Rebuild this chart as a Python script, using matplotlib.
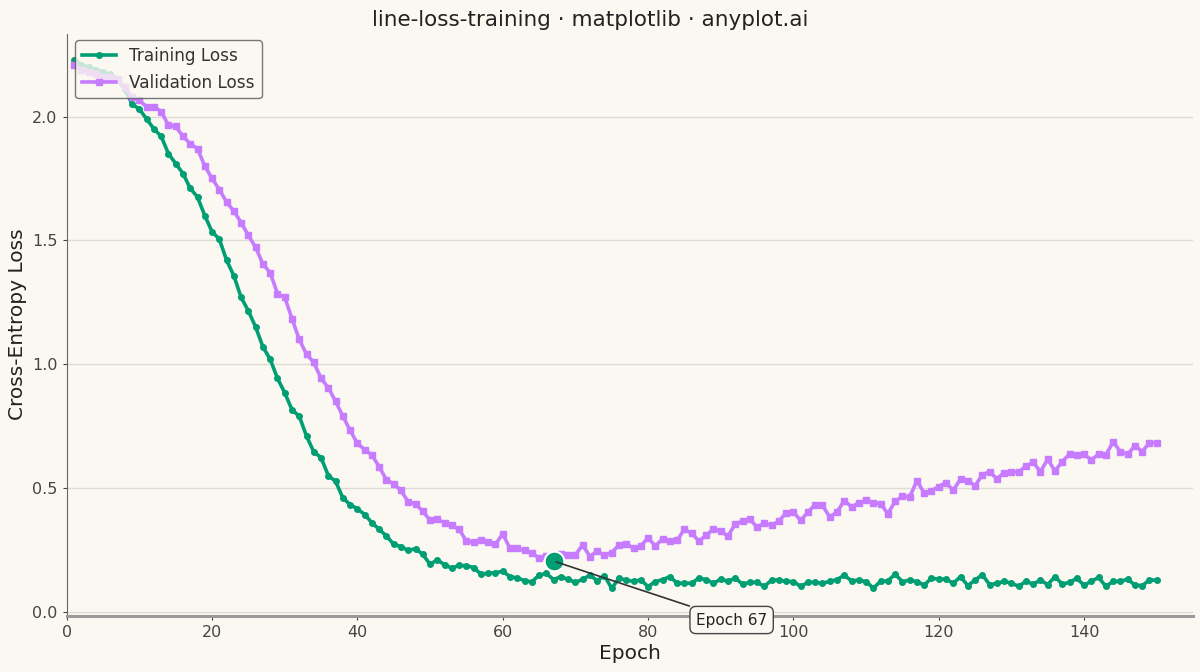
import numpy as np
import matplotlib
matplotlib.use("Agg")
import matplotlib.pyplot as plt

# Loss per epoch
epochs = np.arange(1, 151)

train_loss = [
    2.23, 2.21, 2.20, 2.19, 2.18, 2.17, 2.15, 2.11, 2.05, 2.03,
    1.99, 1.95, 1.92, 1.85, 1.81, 1.77, 1.71, 1.675, 1.60, 1.535,
    1.505, 1.42, 1.357, 1.27, 1.215, 1.15, 1.07, 1.02, 0.943, 0.885,
    0.816, 0.79, 0.71, 0.646, 0.623, 0.55, 0.527, 0.46, 0.433, 0.416,
    0.393, 0.36, 0.333, 0.306, 0.273, 0.263, 0.248, 0.255, 0.232, 0.192,
    0.21, 0.19, 0.176, 0.188, 0.186, 0.179, 0.152, 0.156, 0.158, 0.164,
    0.142, 0.137, 0.126, 0.121, 0.148, 0.155, 0.13, 0.142, 0.131, 0.119,
    0.131, 0.148, 0.126, 0.146, 0.095, 0.136, 0.128, 0.123, 0.129, 0.102,
    0.122, 0.130, 0.142, 0.116, 0.115, 0.116, 0.136, 0.130, 0.115, 0.132,
    0.123, 0.136, 0.112, 0.119, 0.119, 0.103, 0.128, 0.128, 0.123, 0.122,
    0.103, 0.119, 0.119, 0.115, 0.123, 0.130, 0.148, 0.125, 0.128, 0.122,
    0.096, 0.123, 0.125, 0.152, 0.122, 0.128, 0.122, 0.108, 0.136, 0.132,
    0.132, 0.115, 0.142, 0.106, 0.128, 0.150, 0.110, 0.115, 0.123, 0.116,
    0.103, 0.123, 0.112, 0.128, 0.110, 0.142, 0.112, 0.119, 0.135, 0.108,
    0.123, 0.139, 0.103, 0.123, 0.123, 0.132, 0.108, 0.106, 0.128, 0.128,
]

val_loss = [
    2.21, 2.19, 2.18, 2.17, 2.16, 2.16, 2.15, 2.12, 2.08, 2.065,
    2.04, 2.04, 2.02, 1.965, 1.96, 1.92, 1.89, 1.87, 1.80, 1.75,
    1.705, 1.655, 1.618, 1.572, 1.52, 1.472, 1.404, 1.37, 1.285, 1.27,
    1.184, 1.10, 1.04, 1.007, 0.943, 0.905, 0.85, 0.79, 0.733, 0.68,
    0.655, 0.633, 0.586, 0.533, 0.517, 0.49, 0.444, 0.436, 0.406, 0.37,
    0.373, 0.36, 0.349, 0.333, 0.286, 0.28, 0.29, 0.282, 0.273, 0.315,
    0.256, 0.256, 0.248, 0.239, 0.216, 0.226, 0.205, 0.232, 0.228, 0.23,
    0.27, 0.223, 0.246, 0.228, 0.239, 0.27, 0.275, 0.256, 0.266, 0.299,
    0.266, 0.295, 0.286, 0.289, 0.333, 0.317, 0.286, 0.309, 0.335, 0.326,
    0.306, 0.355, 0.366, 0.373, 0.343, 0.357, 0.35, 0.366, 0.40, 0.403,
    0.369, 0.403, 0.433, 0.43, 0.383, 0.403, 0.449, 0.424, 0.44, 0.45,
    0.44, 0.437, 0.396, 0.446, 0.466, 0.464, 0.529, 0.48, 0.489, 0.506,
    0.522, 0.49, 0.537, 0.53, 0.509, 0.553, 0.566, 0.537, 0.562, 0.566,
    0.564, 0.589, 0.604, 0.566, 0.616, 0.569, 0.607, 0.637, 0.633, 0.637,
    0.613, 0.637, 0.633, 0.687, 0.647, 0.636, 0.671, 0.647, 0.683, 0.683,
]

BG = "#FAF8F1"
GREEN = "#009E73"
PURPLE = "#C77CFF"

fig = plt.figure(figsize=(12, 6.72), dpi=100, facecolor=BG)
ax = fig.add_axes([0.0556, 0.084, 0.9386, 0.866])
ax.set_facecolor(BG)

ax.plot(epochs, train_loss, color=GREEN, linewidth=2.6, marker="o",
        markersize=4, label="Training Loss", zorder=3)
ax.plot(epochs, val_loss, color=PURPLE, linewidth=2.6, marker="s",
        markersize=4, label="Validation Loss", zorder=3)

# Mark the best validation epoch
best_idx = int(np.argmin(val_loss))
best_epoch = int(epochs[best_idx])
best_val = val_loss[best_idx]
ax.scatter([best_epoch], [best_val], s=200, color=GREEN, edgecolor="white",
           linewidth=1.5, zorder=5)
ax.annotate(f"Epoch {best_epoch}", xy=(best_epoch, best_val),
            xytext=(best_epoch + 24.5, best_val - 0.238),
            ha="center", va="center", fontsize=11, color="#222222",
            bbox=dict(boxstyle="round,pad=0.4", facecolor=BG, edgecolor="#444444", lw=1),
            arrowprops=dict(arrowstyle="-", color="#333333", lw=1.2),
            annotation_clip=False, zorder=6)

ax.set_xlim(0, 155)
ax.set_ylim(-0.015, 2.335)
ax.set_yticks([0.0, 0.5, 1.0, 1.5, 2.0])
ax.set_xticks([0, 20, 40, 60, 80, 100, 120, 140])

ax.grid(axis="y", color="#DDDBD3", linewidth=1)
ax.set_axisbelow(True)
for side in ["top", "right"]:
    ax.spines[side].set_visible(False)
ax.spines["left"].set_color("#666666")
ax.spines["bottom"].set_color("#999999")
ax.spines["bottom"].set_linewidth(2.2)
ax.tick_params(colors="#444444", labelsize=11.5, length=3)

ax.set_xlabel("Epoch", fontsize=14.5, color="#222222", labelpad=3)
ax.set_ylabel("Cross-Entropy Loss", fontsize=14.5, color="#222222")
fig.suptitle("line-loss-training · matplotlib · anyplot.ai", x=0.492, y=0.985,
             fontsize=15.5, color="#222222")

leg = ax.legend(loc="upper left", fontsize=12.2, frameon=True,
                bbox_to_anchor=(0.0, 1.003), labelcolor="#333333")
leg.get_frame().set_facecolor(BG)
leg.get_frame().set_edgecolor("#555555")

plt.savefig("out.png", dpi=100, facecolor=BG)
